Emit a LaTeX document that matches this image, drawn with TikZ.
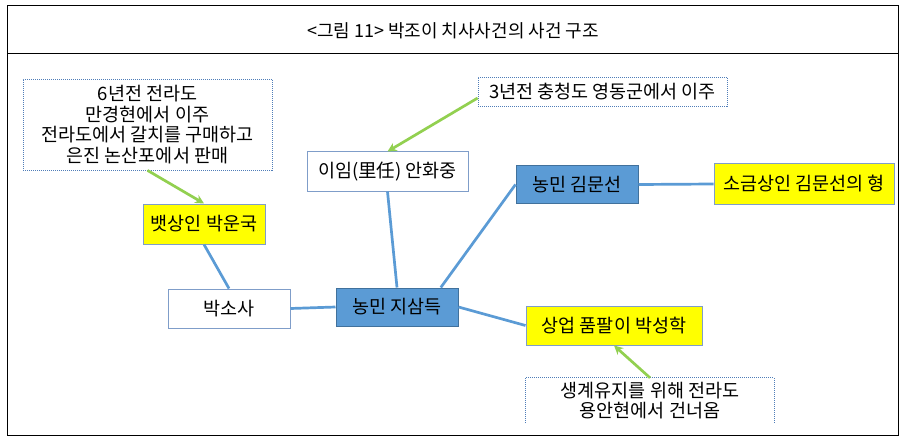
\documentclass[tikz,border=0pt]{standalone}
\usepackage{fontspec}
\setmainfont{Noto Sans CJK KR}
\usetikzlibrary{arrows.meta}
\definecolor{lineblue}{HTML}{5B9BD5}
\definecolor{boxfillblue}{HTML}{5B9BD5}
\definecolor{boxdrawblue}{HTML}{41719C}
\definecolor{lightborder}{HTML}{7F9DC9}
\definecolor{dotborder}{HTML}{4F7DB8}
\definecolor{arrowgreen}{HTML}{92D050}
\definecolor{boxyellow}{HTML}{FFFF00}
\tikzset{
  base/.style={rectangle, inner sep=0pt, font=\fontsize{18.5}{20.7}\selectfont, align=center, text=black},
  whitebox/.style={base, draw=lightborder, line width=1pt, fill=white},
  yellowbox/.style={base, draw=lightborder, line width=1pt, fill=boxyellow},
  bluebox/.style={base, draw=boxdrawblue, line width=1pt, fill=boxfillblue},
  notebox/.style={base, draw=dotborder, line width=0.8pt, dash pattern=on 1pt off 1pt},
  opennote/.style={base},
  link/.style={draw=lineblue, line width=2.7pt},
  pointer/.style={draw=arrowgreen, line width=2.7pt, -{Stealth[length=9pt,width=9pt]}},
  frame/.style={draw=black, line width=1pt}
}
\begin{document}
\begin{tikzpicture}[x=1pt,y=-1pt]
\useasboundingbox (0,0) rectangle (905,441);
% frame
\draw[frame] (7.3,6) rectangle (898.3,435.3);
\draw[frame] (7.3,53.7) -- (898.3,53.7);
\node[base, font=\fontsize{18}{20}\selectfont] (title) at (453,31) {<그림 11> 박조이 치사사건의 사건 구조};
% nodes
\node[notebox, minimum width=249, minimum height=91] (b1) at (147.5,124.5) {6년전 전라도\\만경현에서 이주\\전라도에서 갈치를 구매하고\\은진 논산포에서 판매};
\node[yellowbox, minimum width=122, minimum height=40] (yun) at (204,224) {뱃상인 박운국};
\node[whitebox, minimum width=161, minimum height=39] (lim) at (387.5,171.5) {이임(里任) 안화중};
\node[notebox, minimum width=249, minimum height=29] (three) at (602.5,91.5) {3년전 충청도 영동군에서 이주};
\node[bluebox, minimum width=122, minimum height=37] (kim) at (577,184.5) {농민 김문선};
\node[yellowbox, minimum width=180, minimum height=40] (salt) at (804,184) {소금상인 김문선의 형};
\node[whitebox, minimum width=122, minimum height=39] (sosa) at (229,308.5) {박소사};
\node[bluebox, minimum width=122, minimum height=38] (ji) at (397,307) {농민 지삼득};
\node[yellowbox, minimum width=176, minimum height=39] (seong) at (614,325.5) {상업 품팔이 박성학};
\node[opennote, minimum width=248, minimum height=45] (live) at (650,400.5) {생계유지를 위해 전라도\\용안현에서 건너옴};
\draw[draw=dotborder, line width=0.8pt, dash pattern=on 1pt off 1pt] (live.south west) -- (live.north west) -- (live.north east) -- (live.south east);
% connectors
\draw[link] (yun.south) -- (sosa.north);
\draw[link] (sosa.east) -- (ji.west);
\draw[link] (lim.south) -- (ji.north);
\draw[link] (ji.24) -- (kim.west);
\draw[link] (kim.east) -- (salt.west);
\draw[link] (ji.east) -- (seong.west);
\draw[pointer] (b1.south) -- (yun.north);
\draw[pointer] (three.183) -- (lim.north);
\draw[pointer] (live.north) -- (seong.south);
\end{tikzpicture}
\end{document}
